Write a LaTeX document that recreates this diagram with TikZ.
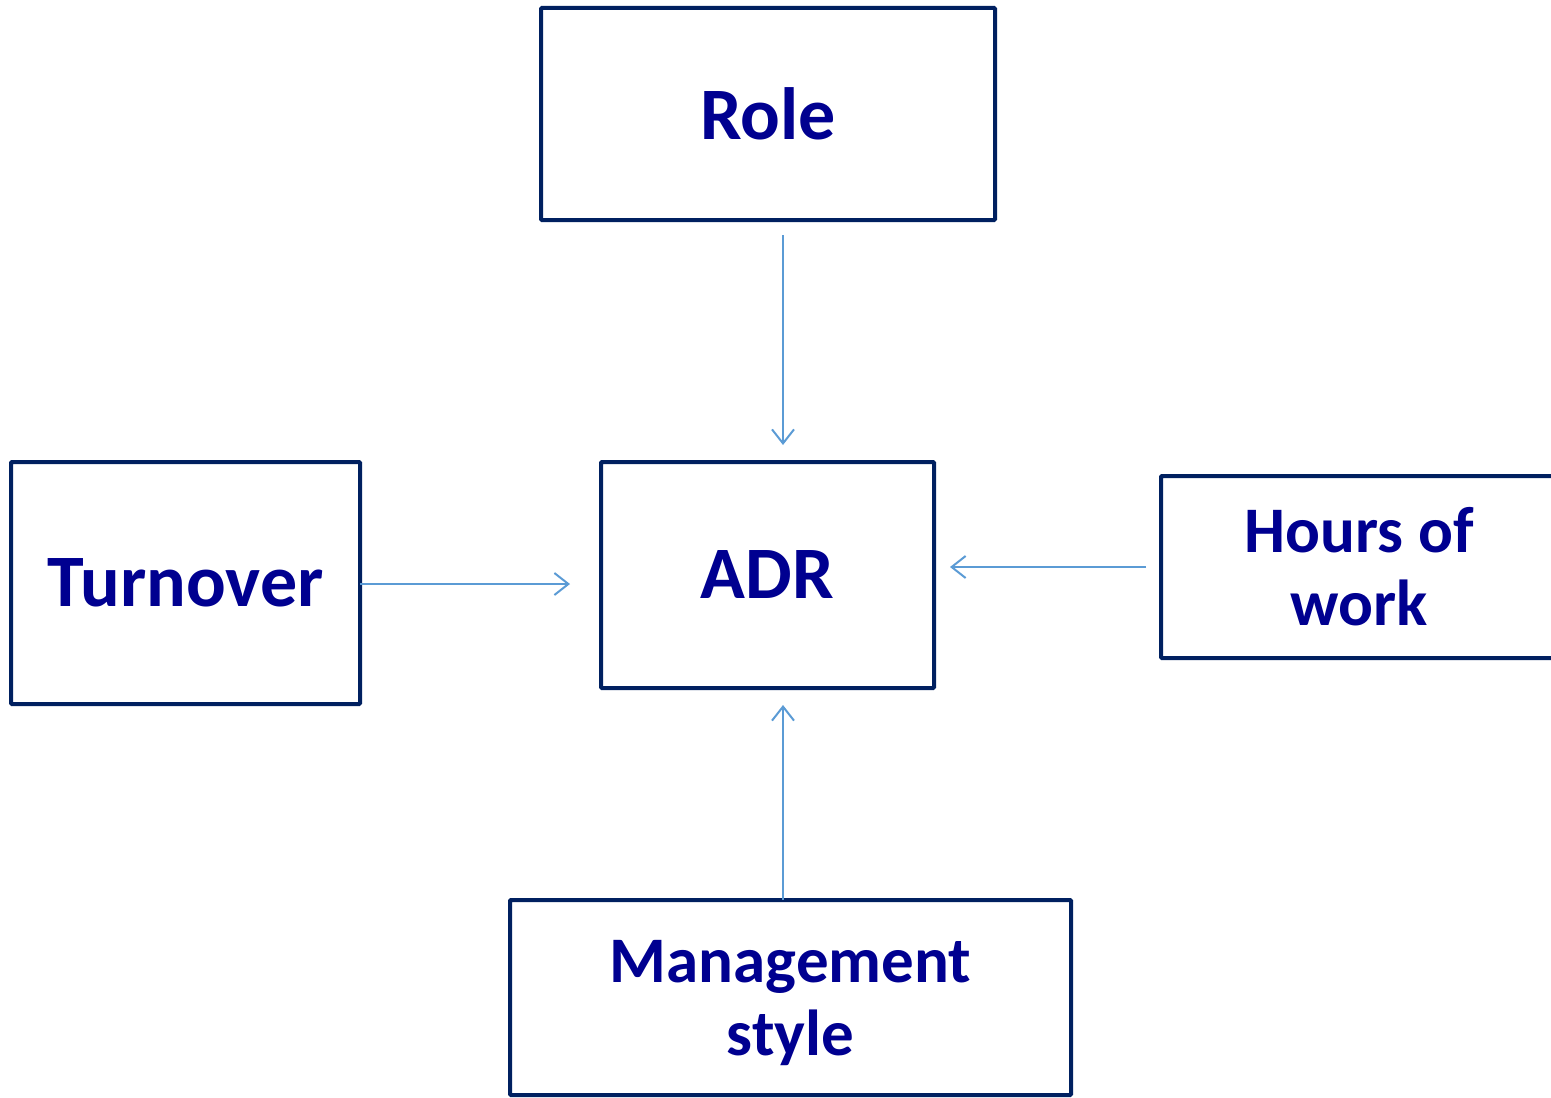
\documentclass[tikz,border=0pt]{standalone}
\usepackage{fontspec}
\setmainfont{Carlito}
\usetikzlibrary{arrows.meta,calc}
\definecolor{boxline}{RGB}{0,32,96}
\definecolor{boxtext}{RGB}{0,0,144}
\definecolor{linkblue}{RGB}{91,155,213}
\begin{document}
\begin{tikzpicture}[x=0.5pt,y=-0.5pt,
        factor/.style={draw=boxline,line width=2pt,text=boxtext,font=\bfseries\fontsize{37}{44}\selectfont,
            align=center,inner sep=0pt,outer sep=0pt,rounded corners=0.5pt},
        twoline/.style={font=\bfseries\fontsize{32.5}{36.5}\selectfont},
        link/.style={draw=linkblue,line width=1pt,-{Straight Barb[length=7pt,width=11pt,line width=1pt]}}]

                \clip (0,0) rectangle (1551,1097);

                % the five boxes
                \node[factor,minimum width=227pt,minimum height=106pt] (role) at (768,114) {Role};
                \node[factor,minimum width=166.5pt,minimum height=113pt] (adr) at (767.5,575) {ADR};
                \node[factor,minimum width=174.5pt,minimum height=121pt] (turn) at (185.5,583) {Turnover};
                \node[factor,twoline,minimum width=198pt,minimum height=91pt] (hours) at (1359,567) {Hours of\\ work};
                \node[factor,twoline,text depth=0pt,minimum width=280.5pt,minimum height=97.5pt] (mgmt) at (790.5,997.5) {Management\\ style};

                \coordinate (axis) at ([xshift=7.75pt]adr.center);

                % arrows into ADR
                \draw[link,shorten <=7.5pt,shorten >=8.5pt] (axis |- role.south) -- (axis |- adr.north);
                \draw[link,shorten >=8.5pt] (axis |- mgmt.north) -- (axis |- adr.south);
                \draw[link,shorten >=15.5pt] ([yshift=-0.5pt]turn.east) -- ([yshift=-0.5pt]turn.east -| adr.west);
                \draw[link,shorten <=7.5pt,shorten >=8pt] (hours.west) -- (hours.west -| adr.east);
\end{tikzpicture}
\end{document}
